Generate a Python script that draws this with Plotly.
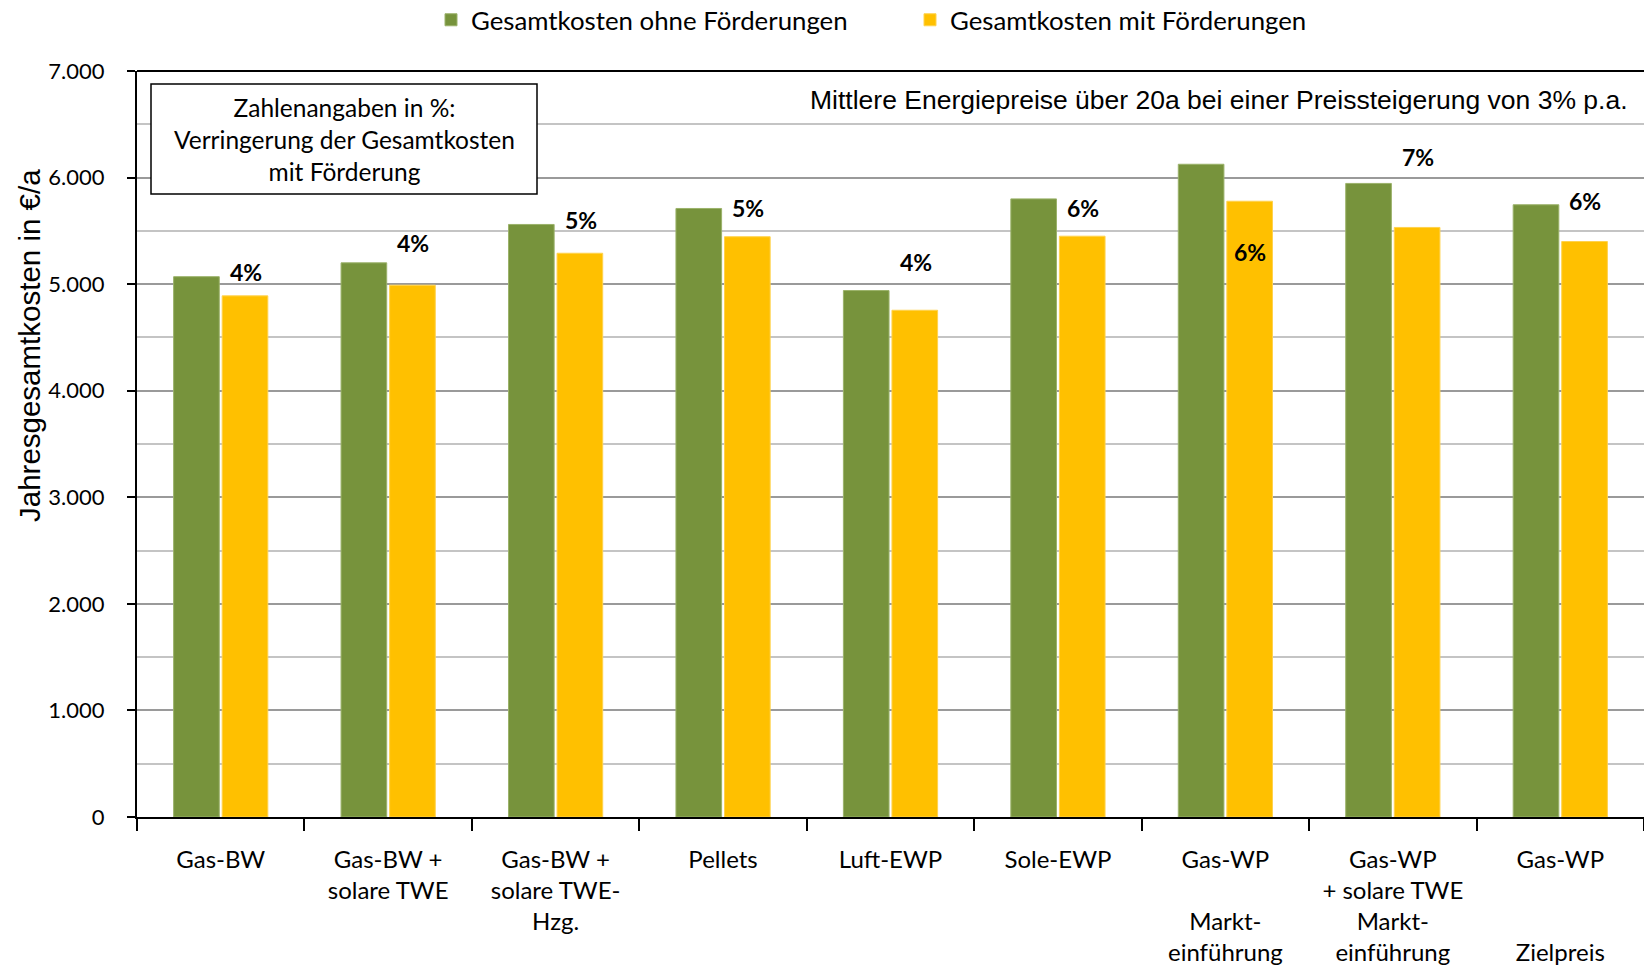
import plotly.graph_objects as go

# ---------------- data ----------------
categories = [
    "Gas-BW",
    "Gas-BW +<br>solare TWE",
    "Gas-BW +<br>solare TWE-<br>Hzg.",
    "Pellets",
    "Luft-EWP",
    "Sole-EWP",
    "Gas-WP<br> <br>Markt-<br>einführung",
    "Gas-WP<br>+ solare TWE<br>Markt-<br>einführung",
    "Gas-WP<br> <br> <br>Zielpreis",
]
cost_without = [5070, 5200, 5560, 5710, 4940, 5800, 6125, 5945, 5745]
cost_with = [4890, 4990, 5290, 5445, 4755, 5450, 5778, 5532, 5400]
reduction_labels = ["4%", "4%", "5%", "5%", "4%", "6%", "6%", "7%", "6%"]
# vertical placement of the percentage labels (axis units)
reduction_label_y = [5110, 5385, 5600, 5710, 5210, 5710, 5300, 6190, 5780]

series_names = ["Gesamtkosten ohne Förderungen", "Gesamtkosten mit Förderungen"]
y_title = "Jahresgesamtkosten in €/a"
note_text = "Mittlere Energiepreise über 20a bei einer Preissteigerung von 3% p.a."
box_text = "Zahlenangaben in %:<br>Verringerung der Gesamtkosten<br>mit Förderung"

# ---------------- layout geometry ----------------
W, H = 1644, 965
L, R, T, B = 137, 0, 71, 148
PW, PH = W - L - R, H - T - B

def px_x(px):
    return (px - L) / PW

def px_y(py):
    return (H - B - py) / PH

GREEN = "#77933C"
YELLOW = "#FFC000"
BODY_FONT = "Lato"
ARIAL = "Liberation Sans"

fig = go.Figure()
fig.add_trace(go.Bar(
    x=categories, y=cost_without, name=series_names[0],
    marker=dict(color=GREEN, line=dict(color="#9BB26A", width=1)),
))
fig.add_trace(go.Bar(
    x=categories, y=cost_with, name=series_names[1],
    marker=dict(color=YELLOW, line=dict(color="#FFD24D", width=1)),
))

annotations = []
for cat, lab, ly in zip(categories, reduction_labels, reduction_label_y):
    annotations.append(dict(
        x=cat, y=ly, xref="x", yref="y", text="<b>" + lab + "</b>",
        showarrow=False, xshift=25, yanchor="middle", xanchor="center",
        font=dict(family=BODY_FONT, size=23, color="black"),
    ))

# y-axis title
annotations.append(dict(
    x=0, y=px_y(346), xref="paper", yref="paper", xshift=29 - L,
    text=y_title, textangle=-90, showarrow=False,
    font=dict(family=ARIAL, size=29.5, color="black"),
    xanchor="center", yanchor="middle",
))
# note text top right
annotations.append(dict(
    x=px_x(1630), y=px_y(100), xref="paper", yref="paper",
    text=note_text, showarrow=False, xanchor="right", yanchor="middle",
    font=dict(family=ARIAL, size=26.5, color="black"),
))
# box text
annotations.append(dict(
    x=px_x(344), y=px_y(139.5), xref="paper", yref="paper",
    text=box_text, showarrow=False, xanchor="center", yanchor="middle",
    align="center",
    font=dict(family=BODY_FONT, size=24.5, color="black"),
))

shapes = [
    dict(type="rect", xref="paper", yref="paper",
         x0=px_x(151), x1=px_x(537), y0=px_y(194), y1=px_y(84),
         line=dict(color="black", width=1.5), fillcolor="white", layer="above"),
    dict(type="line", xref="paper", yref="paper", x0=0, x1=1, y0=1, y1=1,
         line=dict(color="black", width=2)),
]

fig.update_layout(
    width=W, height=H,
    margin=dict(l=L, r=R, t=T, b=B, autoexpand=False),
    paper_bgcolor="white", plot_bgcolor="white",
    separators=",.",
    barmode="group", bargap=0.42, bargroupgap=0.06,
    font=dict(family=BODY_FONT, size=22, color="black"),
    legend=dict(
        orientation="h", x=px_x(431), xanchor="left", y=px_y(20), yanchor="middle",
        font=dict(family=BODY_FONT, size=25.8, color="black"),
        entrywidth=434, entrywidthmode="pixels", bgcolor="rgba(0,0,0,0)",
        itemclick=False,
    ),
    xaxis=dict(
        type="category", showline=True, linecolor="black", linewidth=2,
        ticks="outside", tickson="boundaries", ticklen=12, tickwidth=1.5,
        tickcolor="black", showgrid=False, zeroline=False,
        tickfont=dict(family=BODY_FONT, size=24, color="black"),
        ticklabelstandoff=20,
    ),
    yaxis=dict(
        range=[0, 7000], dtick=1000, tickformat=",d",
        showline=True, linecolor="black", linewidth=2,
        ticks="outside", ticklen=8, tickwidth=1.5, tickcolor="black",
        showgrid=True, gridcolor="#9A9A9A", gridwidth=1.5, zeroline=False,
        tickfont=dict(family=BODY_FONT, size=22, color="black"),
        ticklabelstandoff=18,
        minor=dict(dtick=500, showgrid=True, gridcolor="#C4C4C4", gridwidth=1.5),
    ),
    annotations=annotations,
    shapes=shapes,
)

fig.write_html(
    "out.html",
    config={"displayModeBar": False},
    post_script="document.body.style.margin='0';document.body.style.overflow='hidden';",
)
